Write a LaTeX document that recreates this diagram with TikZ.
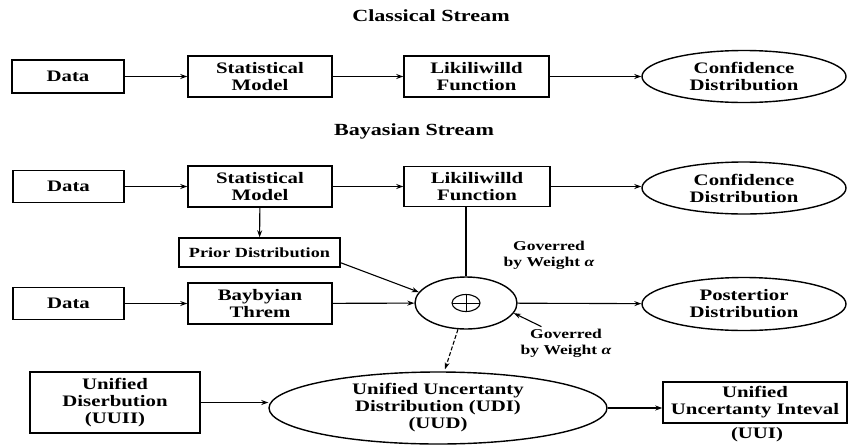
\documentclass[tikz,border=0pt]{standalone}
\usepackage{fontspec}
\setmainfont{Liberation Serif}[FakeStretch=1.3]
\usetikzlibrary{shapes.geometric,arrows.meta,calc}
\begin{document}
\begin{tikzpicture}[x=1pt,y=-1pt,
  box/.style={draw,line width=1.5pt,rectangle,inner sep=0pt,align=center,font=\fontsize{16}{17}\selectfont\bfseries},
  oval/.style={draw,line width=1.4pt,ellipse,inner sep=0pt,align=center,font=\fontsize{16}{17}\selectfont\bfseries},
  arr/.style={line width=1.1pt,-{Stealth[length=7pt,width=5pt]}},
  ttl/.style={inner sep=0pt,font=\fontsize{17}{18}\selectfont\bfseries},
  gov/.style={align=center,inner sep=0pt,font=\fontsize{13.5}{16}\selectfont\bfseries},
  lbl/.style={inner sep=0pt,font=\fontsize{16}{17}\selectfont\bfseries}]
\useasboundingbox[fill=white] (0,0) rectangle (848,445);

% titles
\node[ttl] (t1) at (431,16) {Classical Stream};
\node[ttl] (t2) at (414,131) {Bayasian Stream};

% row 1
\node[box,minimum width=112pt,minimum height=33pt] (d1) at (68,76.5) {Data};
\node[box,minimum width=144pt,minimum height=41pt] (sm1) at (260,76.5) {Statistical\\Model};
\node[box,minimum width=145pt,minimum height=41pt] (lf1) at (476.5,76.5) {Likiliwilld\\Function};
\node[oval,minimum width=204pt,minimum height=52pt] (cd1) at (744,76.5) {Confidence\\Distribution};
\draw[arr] (d1) -- (sm1);
\draw[arr] (sm1) -- (lf1);
\draw[arr] (lf1) -- (cd1);

% row 2
\node[box,minimum width=111pt,minimum height=32pt] (d2) at (68.5,186.5) {Data};
\node[box,minimum width=144pt,minimum height=41pt] (sm2) at (260,186.5) {Statistical\\Model};
\node[box,minimum width=146pt,minimum height=40pt] (lf2) at (477,186.5) {Likiliwilld\\Function};
\node[oval,minimum width=204pt,minimum height=52pt] (cd2) at (744,188) {Confidence\\Distribution};
\draw[arr] (d2) -- (sm2);
\draw[arr] (sm2) -- (lf2);
\draw[arr] (lf2.east) -- (cd2.west |- lf2.east);

% prior
\node[box,minimum width=161pt,minimum height=29pt,font=\fontsize{14}{16}\selectfont\bfseries] (prior) at (259.5,252.5) {Prior Distribution};
\draw[arr] (sm2) -- (prior);

% row 3
\node[box,minimum width=111pt,minimum height=32pt] (d3) at (68.5,303.5) {Data};
\node[box,minimum width=144pt,minimum height=41pt] (bt) at (260,303.5) {Baybyian\\Threm};
\node[draw,line width=1.4pt,ellipse,minimum width=102pt,minimum height=52pt,inner sep=0pt] (sum) at (466,303) {};
\node[oval,minimum width=204pt,minimum height=53pt] (post) at (744,304) {Postertior\\Distribution};
\draw[line width=1.1pt] (sum.center) ellipse (14 and 8.5);
\draw[line width=1pt] ($(sum.center)+(-14,0)$) -- ($(sum.center)+(14,0)$);
\draw[line width=1pt] ($(sum.center)+(0,-8.5)$) -- ($(sum.center)+(0,8.5)$);
\draw[arr] (d3) -- (bt);
\draw[arr] (bt) -- (sum);
\draw[arr] (sum) -- (post);
\draw[arr] ($(prior.south east)+(0,-5)$) -- (sum.167);
\draw[line width=1.1pt] (lf2.south -| sum.north) -- (sum.north);

% governed labels
\node[gov] (gov1) at (549,255) {Goverred\\by Weight {\itshape α}};
\node[gov] (gov2) at (566,343) {Goverred\\by Weight {\itshape α}};
\draw[arr] ($(gov2.north west)+(21,-2)$) -- (sum.-12);

% bottom row
\node[box,minimum width=170pt,minimum height=61pt] (ud) at (115,402.5) {Unified\\Diserbution\\(UUII)};
\node[oval,minimum width=338pt,minimum height=72pt] (uud) at (438,408) {Unified Uncertanty\\Distribution (UDI)\\(UUD)};
\node[box,minimum width=184pt,minimum height=41pt] (uui) at (755,402.5) {Unified\\Uncertanty Inteval};
\node[lbl] (uuil) at (757,435) {(UUI)};
\draw[arr] (ud.east) -- (uud.west |- ud.east);
\draw[arr] (uud.east) -- (uui.west |- uud.east);
\draw[arr,dash pattern=on 4pt off 2pt] (sum.-107) -- ($(uud.north)+(7,-2)$);
\end{tikzpicture}
\end{document}
